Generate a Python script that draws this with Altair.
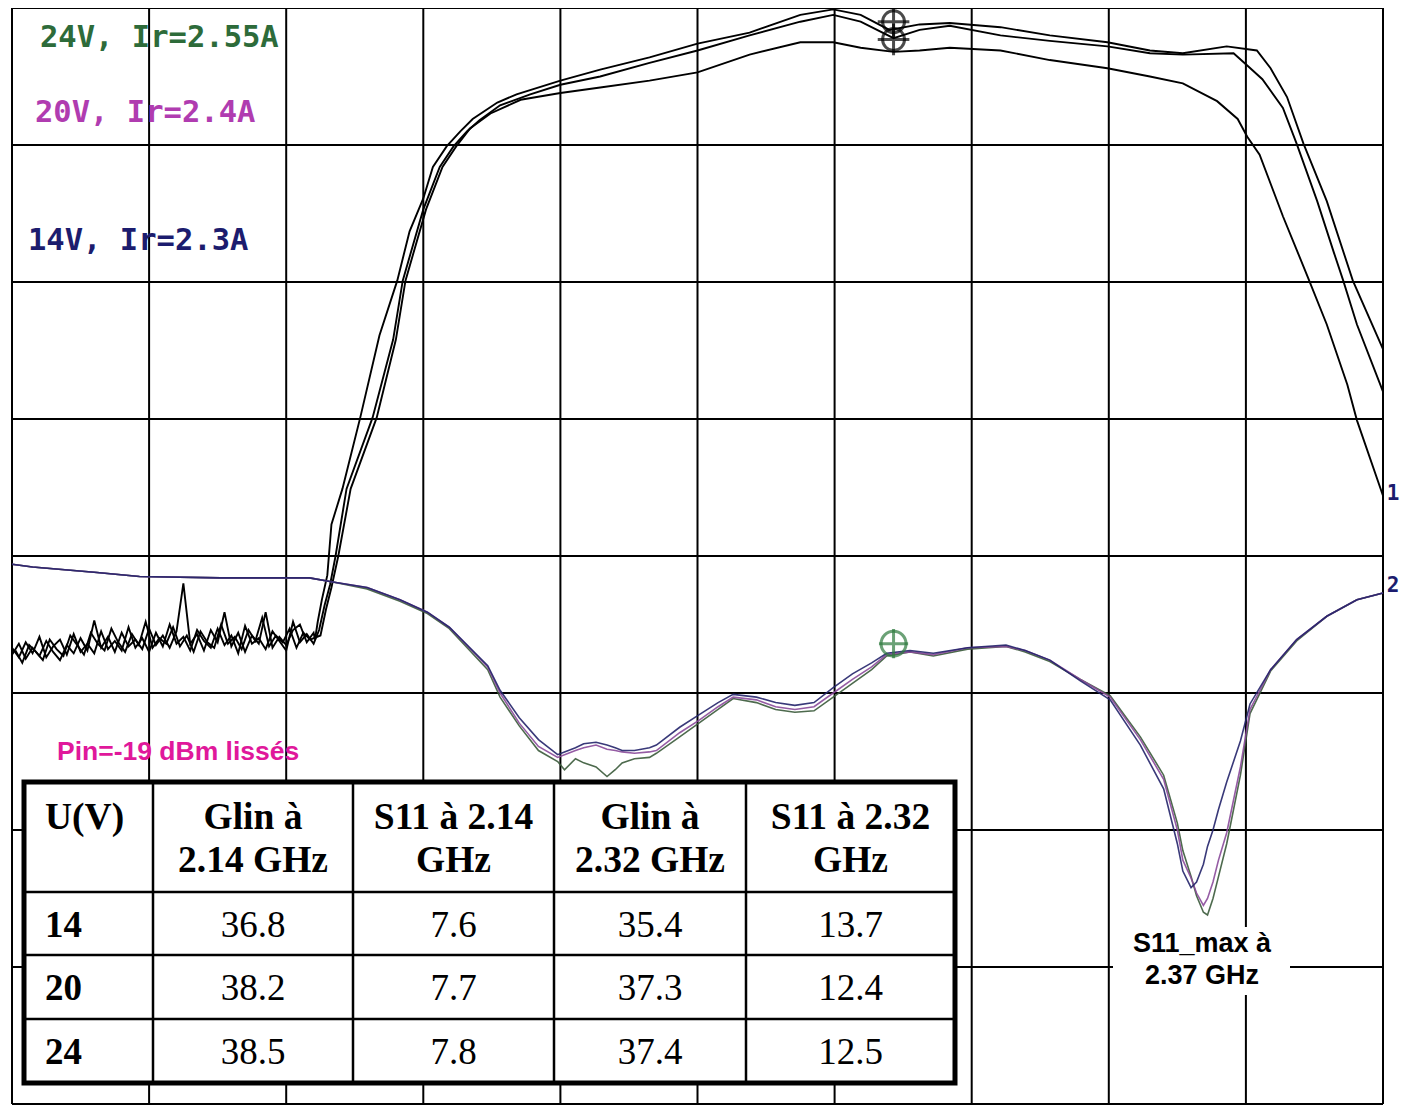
import altair as alt
import pandas as pd

# ---------------- data (screen divisions: x 0..10, y 0..8) ----------------
GRID_X = [0, 1, 2, 3, 4, 5, 6, 7, 8, 9, 10]
GRID_Y = [0, 1, 2, 3, 4, 5, 6, 7, 8]

NOISE_X = [0.00, 0.05, 0.10, 0.15, 0.20, 0.25, 0.30, 0.35, 0.40, 0.45, 0.50, 0.55, 0.60, 0.65,
           0.70, 0.75, 0.80, 0.85, 0.90, 0.95, 1.00, 1.05, 1.10, 1.15, 1.20, 1.25, 1.30, 1.35,
           1.40, 1.45, 1.50, 1.55, 1.60, 1.65, 1.70, 1.75, 1.80, 1.85, 1.90, 1.95, 2.00, 2.05,
           2.10, 2.15, 2.20]
NOISE_X2 = [0.025, 0.075, 0.125, 0.175, 0.225, 0.275, 0.325, 0.375, 0.425, 0.475, 0.525, 0.575,
            0.625, 0.675, 0.725, 0.775, 0.825, 0.875, 0.925, 0.975, 1.025, 1.075, 1.125, 1.175,
            1.225, 1.275, 1.325, 1.375, 1.425, 1.475, 1.525, 1.575, 1.625, 1.675, 1.725, 1.775,
            1.825, 1.875, 1.925, 1.975, 2.025, 2.075, 2.125, 2.175]
NOISE_24 = [3.28, 3.36, 3.25, 3.33, 3.27, 3.38, 3.30, 3.24, 3.35, 3.29, 3.40, 3.31, 3.53, 3.33,
            3.41, 3.30, 3.44, 3.34, 3.39, 3.32, 3.47, 3.35, 3.42, 3.33, 3.45, 3.80, 3.36, 3.43,
            3.31, 3.46, 3.37, 3.59, 3.34, 3.44, 3.30, 3.42, 3.36, 3.59, 3.33, 3.41, 3.35, 3.46,
            3.50, 3.37, 3.44]
NOISE_20 = [3.33, 3.26, 3.37, 3.29, 3.41, 3.26, 3.34, 3.39, 3.28, 3.43, 3.30, 3.36, 3.29, 3.45,
            3.32, 3.38, 3.31, 3.48, 3.33, 3.40, 3.30, 3.44, 3.34, 3.50, 3.36, 3.41, 3.31, 3.46,
            3.38, 3.33, 3.47, 3.35, 3.42, 3.29, 3.49, 3.36, 3.40, 3.32, 3.45, 3.38, 3.31, 3.52,
            3.37, 3.43, 3.36]
NOISE_14 = [3.31, 3.22, 3.35, 3.30, 3.24, 3.39, 3.32, 3.27, 3.42, 3.35, 3.28, 3.44, 3.36, 3.31,
            3.47, 3.37, 3.30, 3.43, 3.35, 3.52, 3.33, 3.40, 3.36, 3.48, 3.34, 3.42, 3.30, 3.45,
            3.37, 3.33, 3.50, 3.36, 3.41, 3.32, 3.46, 3.38, 3.55, 3.34, 3.42, 3.37, 3.47, 3.33,
            3.44, 3.39]

G24_X = [2.21, 2.23, 2.26, 2.30, 2.33, 2.41, 2.54, 2.68, 2.81, 2.90, 3.00, 3.07, 3.17, 3.27, 3.36,
         3.54, 3.68, 4.00, 4.29, 4.65, 5.00, 5.38, 5.75, 5.99, 6.19, 6.40, 6.62, 6.84, 7.21, 7.57,
         7.99, 8.30, 8.54, 8.86, 9.08, 9.18, 9.30, 9.42, 9.59, 9.78, 10.0]
G24_Y = [3.39, 3.52, 3.68, 3.86, 4.23, 4.49, 5.01, 5.61, 6.01, 6.37, 6.61, 6.84, 6.99, 7.10, 7.19,
         7.31, 7.37, 7.47, 7.55, 7.64, 7.74, 7.82, 7.95, 7.99, 7.95, 7.84, 7.88, 7.89, 7.86, 7.80,
         7.75, 7.69, 7.67, 7.72, 7.69, 7.56, 7.35, 7.01, 6.59, 6.01, 5.51]
G20_X = [2.24, 2.28, 2.32, 2.36, 2.44, 2.63, 2.78, 2.85, 3.00, 3.12, 3.22, 3.32, 3.41, 3.56, 3.78,
         4.00, 4.29, 4.65, 5.00, 5.38, 5.75, 5.99, 6.19, 6.43, 6.62, 6.84, 7.21, 7.57, 7.99, 8.30,
         8.54, 8.91, 9.01, 9.12, 9.27, 9.37, 9.52, 9.64, 9.71, 9.81, 10.0]
G20_Y = [3.46, 3.64, 3.79, 4.00, 4.49, 5.01, 5.58, 6.01, 6.53, 6.84, 6.99, 7.10, 7.18, 7.29, 7.37,
         7.44, 7.50, 7.60, 7.69, 7.80, 7.90, 7.95, 7.90, 7.78, 7.84, 7.87, 7.80, 7.76, 7.72, 7.67,
         7.66, 7.67, 7.58, 7.48, 7.27, 7.01, 6.59, 6.22, 6.01, 5.69, 5.20]
G14_X = [2.25, 2.29, 2.33, 2.38, 2.47, 2.66, 2.80, 2.87, 3.02, 3.14, 3.24, 3.34, 3.49, 3.71, 4.00,
         4.29, 4.65, 5.00, 5.38, 5.75, 5.99, 6.19, 6.43, 6.62, 6.84, 7.21, 7.57, 7.99, 8.30, 8.54,
         8.79, 8.94, 9.01, 9.10, 9.27, 9.45, 9.59, 9.74, 9.81, 10.0]
G14_Y = [3.42, 3.61, 3.77, 4.00, 4.49, 5.01, 5.58, 6.01, 6.53, 6.84, 6.99, 7.12, 7.23, 7.33, 7.38,
         7.42, 7.47, 7.53, 7.66, 7.75, 7.75, 7.71, 7.68, 7.69, 7.71, 7.69, 7.62, 7.56, 7.50, 7.45,
         7.32, 7.19, 7.06, 6.93, 6.48, 6.04, 5.69, 5.25, 4.99, 4.44]

S11_X = [0.00, 0.15, 0.62, 0.93, 1.52, 2.17, 2.34, 2.59, 2.83, 3.03, 3.19, 3.47, 3.56, 3.70, 3.84,
         3.98, 4.03, 4.11, 4.17, 4.26, 4.34, 4.40, 4.45, 4.54, 4.65, 4.70, 4.87, 5.01, 5.15, 5.26,
         5.43, 5.57, 5.71, 5.85, 5.99, 6.13, 6.27, 6.38, 6.55, 6.72, 6.97, 7.25, 7.39, 7.57, 7.79,
         8.01, 8.23, 8.40, 8.50, 8.54, 8.60, 8.64, 8.69, 8.72, 8.76, 8.80, 8.86, 8.96, 9.03, 9.18,
         9.37, 9.59, 9.81, 10.0]
S11_14 = [3.94, 3.92, 3.88, 3.85, 3.84, 3.84, 3.81, 3.77, 3.68, 3.59, 3.48, 3.20, 3.02,
          2.82, 2.66, 2.55, 2.57, 2.60, 2.63, 2.64, 2.62, 2.60, 2.58, 2.58, 2.60, 2.62,
          2.75, 2.84, 2.93, 2.99, 2.97, 2.93, 2.91, 2.93, 3.04, 3.14, 3.22, 3.29,
          3.31, 3.29, 3.33, 3.35, 3.31, 3.24, 3.09, 2.95,
          2.62, 2.30, 1.90, 1.70, 1.58, 1.62, 1.75, 1.88, 2.00, 2.15, 2.35, 2.65, 2.92,
          3.17, 3.39, 3.56, 3.68, 3.73]
S11_20 = [3.94, 3.92, 3.88, 3.85, 3.84, 3.84, 3.81, 3.77, 3.68, 3.59, 3.48, 3.19, 3.00,
          2.78, 2.61, 2.53, 2.55, 2.58, 2.60, 2.62, 2.59, 2.58, 2.57, 2.56, 2.57, 2.58,
          2.71, 2.80, 2.90, 2.97, 2.95, 2.90, 2.88, 2.90, 3.00, 3.10, 3.19, 3.28,
          3.30, 3.28, 3.33, 3.34, 3.31, 3.24, 3.10, 2.97,
          2.66, 2.37, 2.00, 1.78, 1.65, 1.54, 1.45, 1.50, 1.62, 1.78, 1.98, 2.46, 2.88,
          3.17, 3.39, 3.56, 3.68, 3.73]
S11_24 = [3.94, 3.92, 3.88, 3.85, 3.84, 3.84, 3.81, 3.76, 3.67, 3.58, 3.47, 3.17, 2.97,
          2.76, 2.58, 2.50, 2.44, 2.52, 2.49, 2.46, 2.39, 2.44, 2.49, 2.52, 2.53, 2.56,
          2.68, 2.78, 2.88, 2.96, 2.93, 2.88, 2.86, 2.87, 2.97, 3.07, 3.17, 3.27,
          3.30, 3.27, 3.32, 3.34, 3.30, 3.23, 3.10, 2.98,
          2.68, 2.40, 2.05, 1.85, 1.66, 1.52, 1.40, 1.38, 1.50, 1.66, 1.90, 2.40, 2.85,
          3.16, 3.38, 3.56, 3.68, 3.73]

MARKER_X = [6.43, 6.43]
MARKER_GAIN_Y = [7.90, 7.77]
MARKER_S11_Y = [3.36]

TRACE_LABELS = ["24V, Ir=2.55A", "20V, Ir=2.4A", "14V, Ir=2.3A"]
TRACE_COLORS = ["#2d6b3a", "#b03cb0", "#1c1c6e"]

TABLE_HEAD = [["U(V)"], ["Glin à", "2.14 GHz"], ["S11 à 2.14", "GHz"],
              ["Glin à", "2.32 GHz"], ["S11 à 2.32", "GHz"]]
U_V = ["14", "20", "24"]
GLIN_214 = ["36.8", "38.2", "38.5"]
S11_214 = ["7.6", "7.7", "7.8"]
GLIN_232 = ["35.4", "37.3", "37.4"]
S11_232 = ["13.7", "12.4", "12.5"]

PIN_NOTE = "Pin=-19 dBm lissés"
S11_NOTE = ["S11_max à", "2.37 GHz"]

# ---------------- layout ----------------
W, H = 1371, 1096
xs = alt.Scale(domain=[0, 10], nice=False, zero=False)
ys = alt.Scale(domain=[0, 8], nice=False, zero=False)


def tdf(x, y, name):
    return pd.DataFrame({"x": x, "y": y, "i": list(range(len(x))), "trace": name})


gain_df = pd.concat([
    tdf(NOISE_X + G24_X, NOISE_24 + G24_Y, "24V"),
    tdf(NOISE_X + G20_X, NOISE_20 + G20_Y, "20V"),
    tdf(NOISE_X2 + G14_X, NOISE_14 + G14_Y, "14V"),
])
s11_df = pd.concat([
    tdf(S11_X, S11_24, "24V"),
    tdf(S11_X, S11_20, "20V"),
    tdf(S11_X, S11_14, "14V"),
])

grid_v = alt.Chart(pd.DataFrame({"g": GRID_X})).mark_rule(color="black", strokeWidth=2).encode(
    x=alt.X("g:Q", scale=xs, axis=None))
grid_h = alt.Chart(pd.DataFrame({"g": GRID_Y})).mark_rule(color="black", strokeWidth=2).encode(
    y=alt.Y("g:Q", scale=ys, axis=None))

gain_lines = alt.Chart(gain_df).mark_line(color="black", strokeWidth=1.9).encode(
    x=alt.X("x:Q", scale=xs, axis=None),
    y=alt.Y("y:Q", scale=ys, axis=None),
    detail="trace:N", order="i:Q")

s11_lines = alt.Chart(s11_df).mark_line(strokeWidth=1.6, opacity=0.9).encode(
    x=alt.X("x:Q", scale=xs, axis=None),
    y=alt.Y("y:Q", scale=ys, axis=None),
    color=alt.Color("trace:N", scale=alt.Scale(domain=["14V", "20V", "24V"],
                                               range=["#24246a", "#8a4a9a", "#3a5a3a"]),
                    legend=None),
    order="i:Q")

CROSS = "M-1,0L1,0M0,-1L0,1"
mk_gain = pd.DataFrame({"x": MARKER_X, "y": MARKER_GAIN_Y})
mk_s11 = pd.DataFrame({"x": MARKER_X[:1], "y": MARKER_S11_Y})
gain_circ = alt.Chart(mk_gain).mark_point(shape="circle", filled=False, color="black",
                                          strokeWidth=3, size=480).encode(
    x=alt.X("x:Q", scale=xs, axis=None), y=alt.Y("y:Q", scale=ys, axis=None))
gain_cross = alt.Chart(mk_gain).mark_point(shape=CROSS, filled=False, color="black",
                                           strokeWidth=3, size=1000).encode(
    x=alt.X("x:Q", scale=xs, axis=None), y=alt.Y("y:Q", scale=ys, axis=None))
s11_circ = alt.Chart(mk_s11).mark_point(shape="circle", filled=False, color="#2d7a3d",
                                        strokeWidth=3, size=620).encode(
    x=alt.X("x:Q", scale=xs, axis=None), y=alt.Y("y:Q", scale=ys, axis=None))
s11_cross = alt.Chart(mk_s11).mark_point(shape=CROSS, filled=False, color="#2d7a3d",
                                         strokeWidth=3, size=850).encode(
    x=alt.X("x:Q", scale=xs, axis=None), y=alt.Y("y:Q", scale=ys, axis=None))

# trace labels (top left)
lab_df = pd.DataFrame({"t": TRACE_LABELS, "c": TRACE_COLORS,
                       "px": [28, 23, 16], "py": [30, 105, 233]})
labels = alt.Chart(lab_df).mark_text(font="DejaVu Sans Mono", fontWeight="bold", fontSize=30.5,
                                     align="left", baseline="middle").encode(
    x=alt.X("px:Q", scale=None), y=alt.Y("py:Q", scale=None),
    text="t:N", color=alt.Color("c:N", scale=None))

end_df = pd.DataFrame({"t": ["1", "2"], "px": [W + 10, W + 10], "py": [486, 578]})
end_labels = alt.Chart(end_df).mark_text(font="DejaVu Sans Mono", fontWeight="bold",
                                         fontSize=21, color="#1c1c6e",
                                         align="center", baseline="middle").encode(
    x=alt.X("px:Q", scale=None), y=alt.Y("py:Q", scale=None), text="t:N")

pin = alt.Chart(pd.DataFrame({"t": [PIN_NOTE]})).mark_text(
    font="Liberation Sans", fontWeight="bold", fontSize=26.5, color="#e0189b",
    align="left", baseline="middle").encode(
    x=alt.value(45), y=alt.value(744), text="t:N")

# table
TX = [12, 141, 341, 542, 734, 943]
TY = [774, 884, 947, 1011, 1075]
table_bg = alt.Chart(pd.DataFrame({"a": [0]})).mark_rect(
    fill="white", stroke="black", strokeWidth=5).encode(
    x=alt.value(TX[0]), x2=alt.value(TX[-1]), y=alt.value(TY[0]), y2=alt.value(TY[-1]))
vl = pd.DataFrame({"x": TX[1:-1], "y1": [TY[0]] * 4, "y2": [TY[-1]] * 4})
hl = pd.DataFrame({"y": TY[1:-1], "x1": [TX[0]] * 3, "x2": [TX[-1]] * 3})
t_vlines = alt.Chart(vl).mark_rule(color="black", strokeWidth=2.5).encode(
    x=alt.X("x:Q", scale=None), y=alt.Y("y1:Q", scale=None), y2="y2:Q")
t_hlines = alt.Chart(hl).mark_rule(color="black", strokeWidth=2.5).encode(
    y=alt.Y("y:Q", scale=None), x=alt.X("x1:Q", scale=None), x2="x2:Q")

centers = [(TX[i] + TX[i + 1]) / 2 for i in range(5)]
row_c = [(TY[i] + TY[i + 1]) / 2 + 2 for i in range(1, 4)]
head_rows = []
for ci, lines in enumerate(TABLE_HEAD):
    for li, s in enumerate(lines):
        head_rows.append({"t": s, "px": (TX[0] + 21) if ci == 0 else centers[ci],
                          "py": 810 + 43 * li, "a": "left" if ci == 0 else "center"})
head_df = pd.DataFrame(head_rows)
serif = "Liberation Serif, Times New Roman, serif"
head_left = alt.Chart(head_df[head_df.a == "left"]).mark_text(
    font=serif, fontWeight="bold", fontSize=37.5, align="left", baseline="middle",
    color="black").encode(x=alt.X("px:Q", scale=None), y=alt.Y("py:Q", scale=None), text="t:N")
head_center = alt.Chart(head_df[head_df.a == "center"]).mark_text(
    font=serif, fontWeight="bold", fontSize=37.5, align="center", baseline="middle",
    color="black").encode(x=alt.X("px:Q", scale=None), y=alt.Y("py:Q", scale=None), text="t:N")

uv_df = pd.DataFrame({"t": U_V, "px": [TX[0] + 21] * 3, "py": row_c})
uv_text = alt.Chart(uv_df).mark_text(font=serif, fontWeight="bold", fontSize=37, align="left",
                                     baseline="middle", color="black").encode(
    x=alt.X("px:Q", scale=None), y=alt.Y("py:Q", scale=None), text="t:N")
cell_rows = []
for ci, col in enumerate([GLIN_214, S11_214, GLIN_232, S11_232]):
    for ri, v in enumerate(col):
        cell_rows.append({"t": v, "px": centers[ci + 1], "py": row_c[ri]})
cell_text = alt.Chart(pd.DataFrame(cell_rows)).mark_text(
    font=serif, fontSize=37, align="center", baseline="middle", color="black").encode(
    x=alt.X("px:Q", scale=None), y=alt.Y("py:Q", scale=None), text="t:N")

# S11 max note
note_bg = alt.Chart(pd.DataFrame({"a": [0]})).mark_rect(fill="white").encode(
    x=alt.value(1101), x2=alt.value(1278), y=alt.value(919), y2=alt.value(987))
note_df = pd.DataFrame({"t": S11_NOTE, "py": [936, 968]})
note_text = alt.Chart(note_df).mark_text(font="Liberation Sans", fontWeight="bold", fontSize=27,
                                         align="center", baseline="middle",
                                         color="black").encode(
    x=alt.value(1190), y=alt.Y("py:Q", scale=None), text="t:N")

chart = alt.layer(
    grid_v, grid_h, gain_lines, s11_lines,
    gain_circ, gain_cross, s11_circ, s11_cross,
    table_bg, t_vlines, t_hlines, head_left, head_center, uv_text, cell_text,
    labels, end_labels, pin, note_bg, note_text,
).resolve_scale(x="independent", y="independent").properties(
    width=W, height=H,
    padding={"left": 4, "top": 0, "right": 17, "bottom": 3},
    autosize=alt.AutoSizeParams(type="none"),
    background="white",
).configure_view(stroke=None)

chart.save("out.html", embed_options={"renderer": "svg", "actions": False})
